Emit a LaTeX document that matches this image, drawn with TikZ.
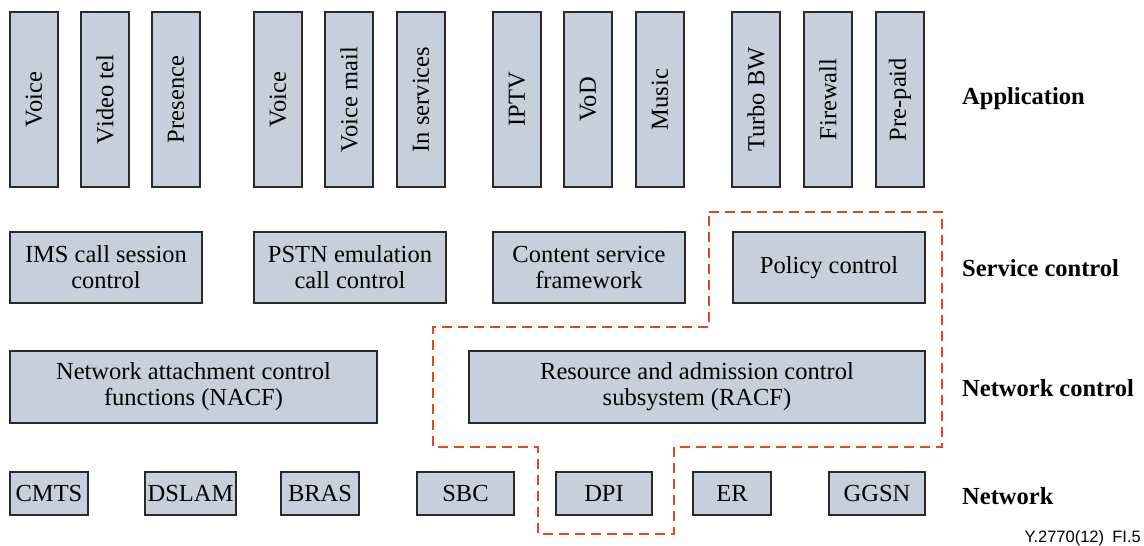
\documentclass[tikz,border=0pt]{standalone}
\usepackage{fontspec}
\setmainfont{Liberation Serif}
\newfontfamily\footfont{Liberation Sans}
\definecolor{boxfill}{HTML}{C5D0DC}
\definecolor{boxline}{HTML}{2A2A2A}
\definecolor{dashred}{HTML}{E8461A}
\begin{document}
\begin{tikzpicture}[x=1pt,y=-1pt,
  box/.style={draw=boxline, fill=boxfill, line width=1.4pt, inner sep=0pt, align=center,
    font=\fontsize{24.5}{26}\selectfont},
  appbox/.style={box, minimum width=48pt, minimum height=175pt},
  apptext/.style={rotate=90, inner sep=0pt, font=\fontsize{24.5}{26}\selectfont},
  svcbox/.style={box, minimum width=192pt, minimum height=71pt},
  ncbox/.style={box, minimum height=72pt},
  netbox/.style={box, minimum height=43pt},
  layer/.style={anchor=west, inner sep=0pt, font=\fontsize{24.5}{26}\selectfont\bfseries},
  region/.style={draw=dashred, line width=1.8pt, dash pattern=on 10pt off 6pt}]
\path[use as bounding box] (0,0) rectangle (1144,546);
% Application
\foreach \nm/\cx/\txt in {a1/34/Voice, a2/105/Video tel, a3/176/Presence,
  a4/278/Voice, a5/349/Voice mail, a6/421/In services,
  a7/517/IPTV, a8/588/VoD, a9/660/Music,
  a10/756/Turbo BW, a11/828/Firewall, a12/900/Pre-paid}{
  \node[appbox] (\nm) at (\cx,99.5) {};
  \node[apptext] (\nm t) at (\nm.center) {\txt};
}
% Service control
\node[svcbox] (ims) at (106,267.5) {IMS call session\\control};
\node[svcbox] (pstn) at (350,267.5) {PSTN emulation\\call control};
\node[svcbox] (csf) at (589,267.5) {Content service\\framework};
\node[svcbox] (pol) at (829,267.5) {Policy control};
% Network control
\node[ncbox, minimum width=367pt] (nacf) at (193.5,387) {Network attachment control\\functions (NACF)};
\node[ncbox, minimum width=456pt] (racf) at (697,387) {Resource and admission control\\subsystem (RACF)};
% Network
\node[netbox, minimum width=78pt] (cmts) at (49,493.5) {CMTS};
\node[netbox, minimum width=91pt] (dslam) at (190.5,493.5) {DSLAM};
\node[netbox, minimum width=78pt] (bras) at (320,493.5) {BRAS};
\node[netbox, minimum width=97pt] (sbc) at (465.5,493.5) {SBC};
\node[netbox, minimum width=96pt] (dpi) at (604,493.5) {DPI};
\node[netbox, minimum width=78pt] (er) at (732,493.5) {ER};
\node[netbox, minimum width=96pt] (ggsn) at (877,493.5) {GGSN};
% dashed region
\draw[region] (709,212) -- (942,212) -- (942,447) -- (674,447) -- (674,534)
  -- (538,534) -- (538,447) -- (433,447) -- (433,327) -- (709,327) -- cycle;
% Layer labels
\node[layer] (lapp) at (962,99) {Application};
\node[layer] (lsvc) at (962,268) {Service control};
\node[layer] (lnc) at (962,388) {Network control};
\node[layer] (lnet) at (962,496) {Network};
\node[anchor=east, inner sep=0pt, font=\footfont\fontsize{16.5}{18}\selectfont] (fig) at (1141,538) {Y.2770(12)\hspace{0.5em}FI.5};
\end{tikzpicture}
\end{document}
